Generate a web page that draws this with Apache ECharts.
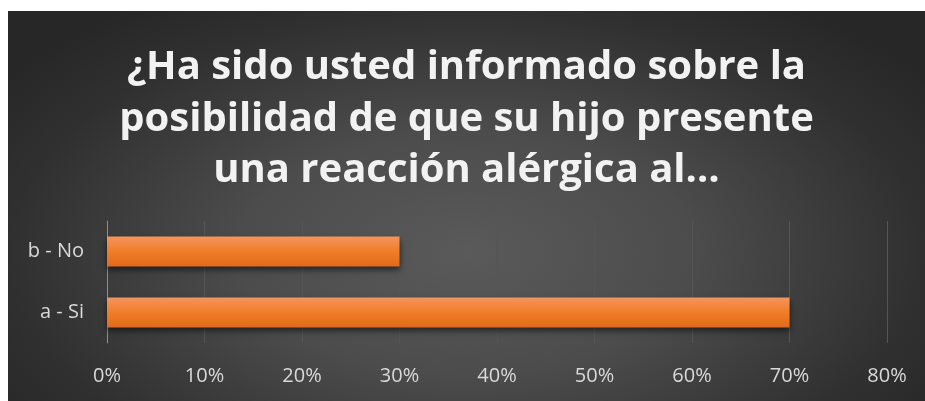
<!DOCTYPE html>
<html>
<head>
<meta charset="utf-8">
<script src="https://cdn.jsdelivr.net/npm/echarts@6/dist/echarts.min.js"></script>
<style>
    html, body { margin: 0; padding: 0; background: #ffffff; }
    #chart {
        position: absolute;
        left: 8px;
        top: 11px;
        width: 917px;
        height: 390px;
        background: radial-gradient(ellipse 62% 78% at 50% 62%, #5a5a5a 0%, #4c4c4c 40%, #303030 80%, #272727 100%);
    }
</style>
</head>
<body>
<div id="chart"></div>
<script>
let categories = ['a - Si', 'b - No'];
let values = [70, 30];          // porcentaje
let xTicks = [0, 80, 10];       // min, max, intervalo

let chart = echarts.init(document.getElementById('chart'));

let option = {
    backgroundColor: 'transparent',
    animation: false,
    title: {
        text: '¿Ha sido usted informado sobre la\nposibilidad de que su hijo presente\nuna reacción alérgica al…',
        left: 'center',
        top: 26,
        textStyle: {
            fontFamily: 'Open Sans',
            fontWeight: 'bold',
            fontSize: 40,
            lineHeight: 51.5,
            color: '#f2f2f2'
        }
    },
    grid: {
        left: 99,
        right: 38,
        top: 210,
        bottom: 58,
        containLabel: false
    },
    xAxis: {
        type: 'value',
        min: xTicks[0],
        max: xTicks[1],
        interval: xTicks[2],
        axisLine: { show: false },
        axisTick: { show: false },
        axisLabel: {
            formatter: '{value}%',
            color: '#d9d9d9',
            fontFamily: 'Open Sans',
            fontSize: 20,
            margin: 23
        },
        splitLine: {
            lineStyle: { color: '#555555', width: 1 }  //网格线
        }
    },
    yAxis: {
        type: 'category',
        data: categories,
        axisLine: {
            lineStyle: { color: '#8f8f8f', width: 1 }
        },
        axisTick: { show: false },
        axisLabel: {
            color: '#d9d9d9',
            fontFamily: 'Open Sans',
            fontSize: 20,
            margin: 23
        }
    },
    series: [
        {
            type: 'bar',
            data: values,
            barWidth: 30,
            itemStyle: {
                color: new echarts.graphic.LinearGradient(0, 0, 0, 1, [
                    { offset: 0, color: '#f4945e' },
                    { offset: 0.5, color: '#f07d28' },
                    { offset: 1, color: '#e3691a' }
                ]),
                shadowColor: 'rgba(0,0,0,0.55)',
                shadowBlur: 6,
                shadowOffsetY: 3
            }
        }
    ]
};

chart.setOption(option);
</script>
</body>
</html>
